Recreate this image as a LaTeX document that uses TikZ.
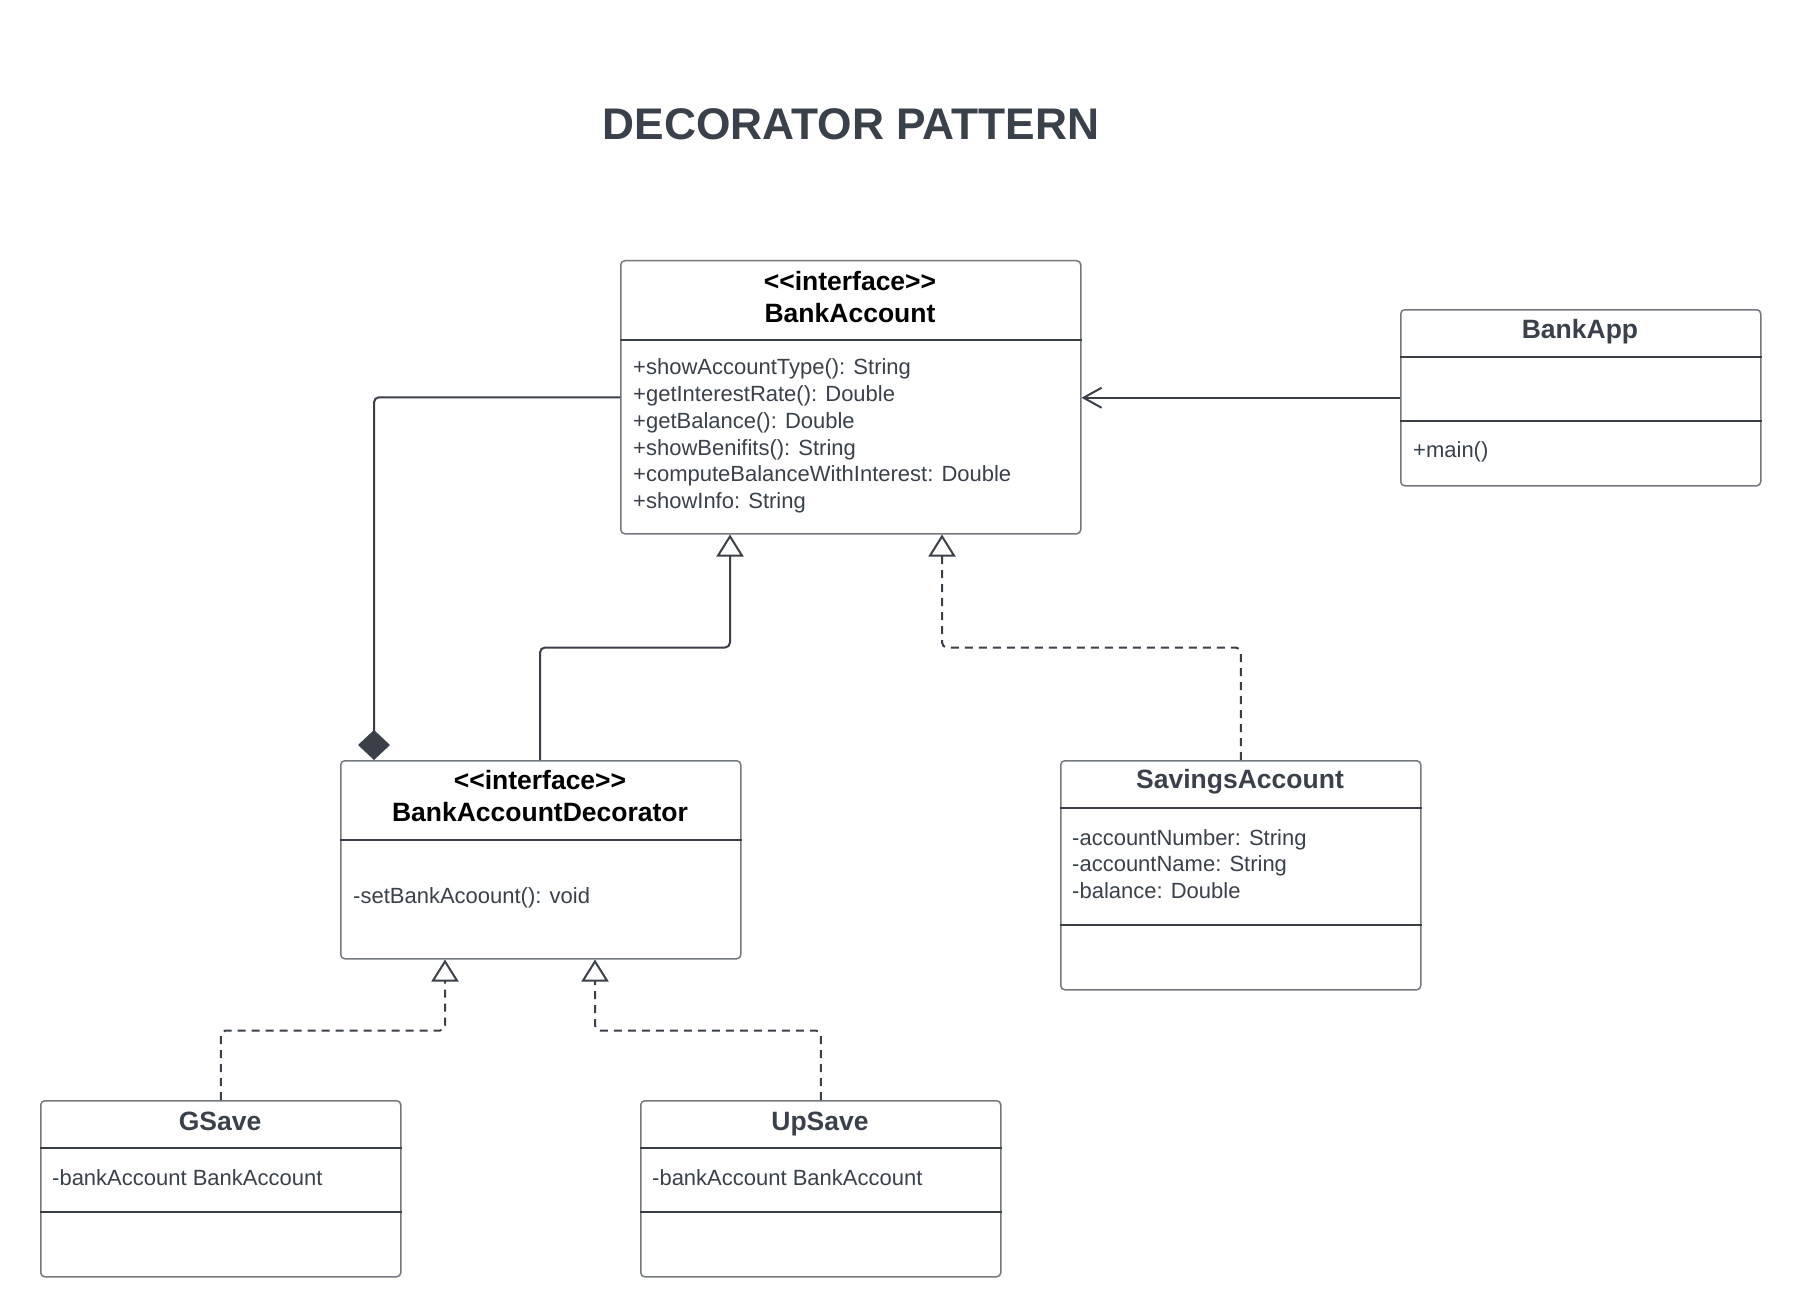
\documentclass[tikz,border=0pt]{standalone}
\usepackage{fontspec}
\setmainfont{Liberation Sans}
\usetikzlibrary{arrows.meta,calc}
\definecolor{ink}{HTML}{3A414A}
\definecolor{edgegray}{HTML}{74787F}
\definecolor{wire}{HTML}{3A3F48}
\tikzset{
  umlbox/.style={draw=edgegray, line width=1.5pt, rounded corners=4pt, fill=white, anchor=north west, inner sep=0pt},
  sepline/.style={draw=wire, line width=1.5pt},
  body/.style={font=\fontsize{22}{26.7}\selectfont, text=ink, align=left, anchor=west, inner sep=0pt},
  head/.style={font=\bfseries\fontsize{26.5}{32}\selectfont, text=ink, align=center, inner sep=0pt},
  ihead/.style={head, text=black},
  wireline/.style={draw=wire, line width=2pt, rounded corners=5pt},
  realize/.style={wireline, dash pattern=on 8pt off 6pt},
  gentip/.style={-{Triangle[length=22pt, width=27pt, fill=white, line width=2pt]}},
}
\begin{document}
\begin{tikzpicture}[x=1pt, y=-1pt]
\useasboundingbox (0,0) rectangle (1800,1316);
\fill[white] (0,0) rectangle (1800,1316);

% title
\node[font=\bfseries\fontsize{44.3}{50}\selectfont, text=ink, inner sep=0pt] (title) at (851,124) {DECORATOR PATTERN};

% BankAccount
\node[umlbox, minimum width=460pt, minimum height=273pt] (ba) at (620,260) {};
\draw[sepline] ($(ba.north west)+(0,80)$) -- ($(ba.north east)+(0,80)$);
\node[ihead] (bah) at (850,297) {<\kern0pt<interface>\kern0pt>\\BankAccount};
\node[body] (bab) at (633,436) {+showAccountType(): String\\+getInterestRate(): Double\\+getBalance(): Double\\+showBenifits(): String\\+computeBalanceWithInterest: Double\\+showInfo: String};

% BankApp
\node[umlbox, minimum width=360pt, minimum height=176pt] (app) at (1400,309) {};
\draw[sepline] ($(app.north west)+(0,48)$) -- ($(app.north east)+(0,48)$);
\draw[sepline] ($(app.north west)+(0,112)$) -- ($(app.north east)+(0,112)$);
\node[head] (apph) at (1580,332) {BankApp};
\node[body] (appb) at (1413,452) {+main()};

% BankAccountDecorator
\node[umlbox, minimum width=400pt, minimum height=198pt] (dec) at (340,760) {};
\draw[sepline] ($(dec.north west)+(0,80)$) -- ($(dec.north east)+(0,80)$);
\node[ihead] (dech) at (540,796) {<\kern0pt<interface>\kern0pt>\\BankAccountDecorator};
\node[body] (decb) at (353,898) {-setBankAcoount(): void};

% SavingsAccount
\node[umlbox, minimum width=360pt, minimum height=229pt] (sav) at (1060,760) {};
\draw[sepline] ($(sav.north west)+(0,48)$) -- ($(sav.north east)+(0,48)$);
\draw[sepline] ($(sav.north west)+(0,165)$) -- ($(sav.north east)+(0,165)$);
\node[head] (savh) at (1240,782) {SavingsAccount};
\node[body] (savb) at (1072,864) {-accountNumber: String\\-accountName: String\\-balance: Double};

% GSave
\node[umlbox, minimum width=360pt, minimum height=176pt] (gs) at (40,1100) {};
\draw[sepline] ($(gs.north west)+(0,48)$) -- ($(gs.north east)+(0,48)$);
\draw[sepline] ($(gs.north west)+(0,112)$) -- ($(gs.north east)+(0,112)$);
\node[head] (gsh) at (220,1121) {GSave};
\node[body] (gsb) at (52,1178) {-bankAccount BankAccount};

% UpSave
\node[umlbox, minimum width=360pt, minimum height=176pt] (us) at (640,1100) {};
\draw[sepline] ($(us.north west)+(0,48)$) -- ($(us.north east)+(0,48)$);
\draw[sepline] ($(us.north west)+(0,112)$) -- ($(us.north east)+(0,112)$);
\node[head] (ush) at (820,1124) {UpSave};
\node[body] (usb) at (652,1178) {-bankAccount BankAccount};

% connectors
\draw[wireline, -{Straight Barb[length=18pt, width=20pt, line width=2pt]}] (app.west) -- (app.west -| ba.east);
\draw[wireline, -{Diamond[length=30pt, width=32pt]}] (ba.west) -| ($(dec.north west)+(34,0)$);
\draw[wireline, gentip] ($(dec.north west)+(200,0)$) |- ($(ba.south west)+(110,113)$) -- ($(ba.south west)+(110,0)$);
\draw[realize, gentip] (sav.north) |- ($(ba.south west)+(322,113)$) -- ($(ba.south west)+(322,0)$);
\draw[realize, gentip] (gs.north) |- ($(dec.south west)+(105,71)$) -- ($(dec.south west)+(105,0)$);
\draw[realize, gentip] (us.north) |- ($(dec.south west)+(255,71)$) -- ($(dec.south west)+(255,0)$);
\end{tikzpicture}
\end{document}
